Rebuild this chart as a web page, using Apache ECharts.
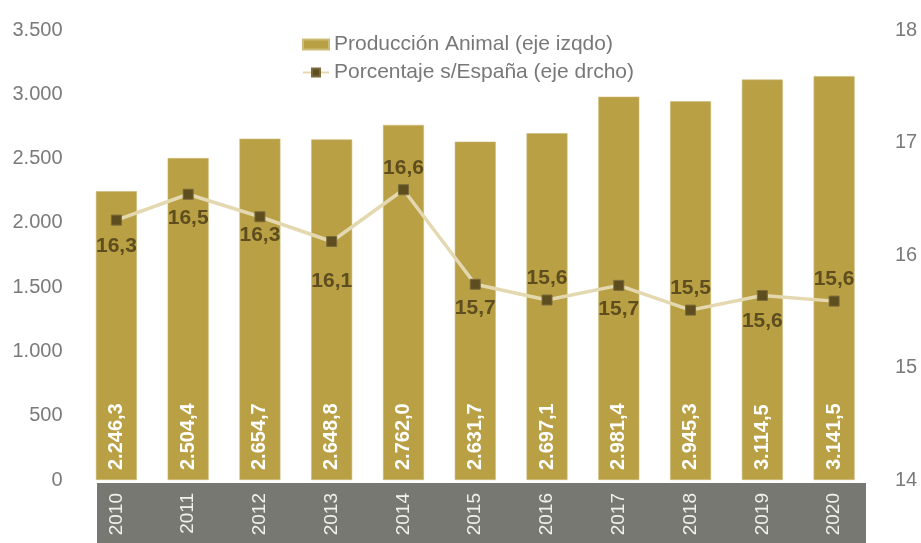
<!DOCTYPE html>
<html>
<head>
<meta charset="utf-8">
<script src="https://cdn.jsdelivr.net/npm/echarts@6/dist/echarts.min.js"></script>
<style>html,body{margin:0;padding:0;background:#fff}#c{width:921px;height:543px}</style>
</head>
<body>
<div id="c"></div>
<script>
var years = ['2010','2011','2012','2013','2014','2015','2016','2017','2018','2019','2020'];
var produccion = [2246.3, 2504.4, 2654.7, 2648.8, 2762.0, 2631.7, 2697.1, 2981.4, 2945.3, 3114.5, 3141.5];
var porcentaje = [16.31, 16.54, 16.34, 16.12, 16.58, 15.74, 15.60, 15.73, 15.51, 15.64, 15.59];
var porcentajeLabels = [16.3, 16.5, 16.3, 16.1, 16.6, 15.7, 15.6, 15.7, 15.5, 15.6, 15.6];
var labelPos = ['bottom','bottom','bottom','bottom','top','bottom','top','bottom','top','bottom','top'];
var labelDist = [10, 8, 2, 24, 6, 8, 6, 8, 6, 10, 6];
var leftTicks = [0, 500, 1000, 1500, 2000, 2500, 3000, 3500];
var rightTicks = [14, 15, 16, 17, 18];

function fmtThousands(v, dec) {
  var s = v.toFixed(dec).split('.');
  var ip = s[0].replace(/\B(?=(\d{3})+(?!\d))/g, '.');
  return dec ? ip + ',' + s[1] : ip;
}

var chart = echarts.init(document.getElementById('c'), null, {renderer: 'canvas'});
var lineData = porcentaje.map(function (v, i) {
  return {
    value: v,
    label: {position: labelPos[i], distance: labelDist[i],
      formatter: function () { return porcentajeLabels[i].toFixed(1).replace('.', ','); }}
  };
});

chart.setOption({
  animation: false,
  textStyle: {fontFamily: 'Liberation Sans, Arial, sans-serif'},
  graphic: [{
    type: 'rect', z: -1, silent: true,
    shape: {x: 97, y: 483, width: 769, height: 60},
    style: {fill: '#787872'}
  }],
  legend: {
    orient: 'vertical', left: 297, top: 29, itemGap: 7,
    itemWidth: 26, itemHeight: 10,
    textStyle: {fontSize: 21, color: '#787878', fontFamily: 'Liberation Sans, Arial, sans-serif'},
    data: [
      {name: 'Producción Animal (eje izqdo)', icon: 'rect'},
      {name: 'Porcentaje s/España (eje drcho)'}
    ]
  },
  grid: {left: 80.5, right: 51, top: 30, bottom: 63, containLabel: false},
  xAxis: {
    type: 'category', data: years,
    axisLine: {show: false}, axisTick: {show: false},
    axisLabel: {rotate: 90, margin: 13, fontSize: 19, color: '#f0f0ec'}
  },
  yAxis: [{
    type: 'value', min: leftTicks[0], max: leftTicks[leftTicks.length - 1], interval: 500,
    splitLine: {show: false}, axisLine: {show: false}, axisTick: {show: false},
    axisLabel: {fontSize: 20, color: '#7a7a7a', margin: 18,
      formatter: function (v) { return fmtThousands(v, 0); }}
  }, {
    type: 'value', min: rightTicks[0], max: rightTicks[rightTicks.length - 1], interval: 1,
    splitLine: {show: false}, axisLine: {show: false}, axisTick: {show: false},
    axisLabel: {fontSize: 20, color: '#7a7a7a', margin: 25}
  }],
  series: [{
    name: 'Producción Animal (eje izqdo)', type: 'bar', yAxisIndex: 0,
    data: produccion, barWidth: 41,
    itemStyle: {color: '#B9A044', borderColor: '#CDBB78', borderWidth: 0.6},
    label: {
      show: true, position: 'insideBottom', rotate: 90, align: 'left', verticalAlign: 'middle',
      distance: 10, color: '#ffffff', fontSize: 20, fontWeight: 'bold',
      formatter: function (p) { return fmtThousands(p.value, 1); }
    }
  }, {
    name: 'Porcentaje s/España (eje drcho)', type: 'line', yAxisIndex: 1,
    data: lineData, symbol: 'rect', symbolSize: 10,
    lineStyle: {color: '#E4D8B0', width: 3.5},
    itemStyle: {color: '#5E4D1E', borderColor: '#7a6a3a', borderWidth: 1},
    label: {show: true, color: '#5E4D1E', fontSize: 21, fontWeight: 'bold'},
    z: 5
  }]
});
</script>
</body>
</html>
